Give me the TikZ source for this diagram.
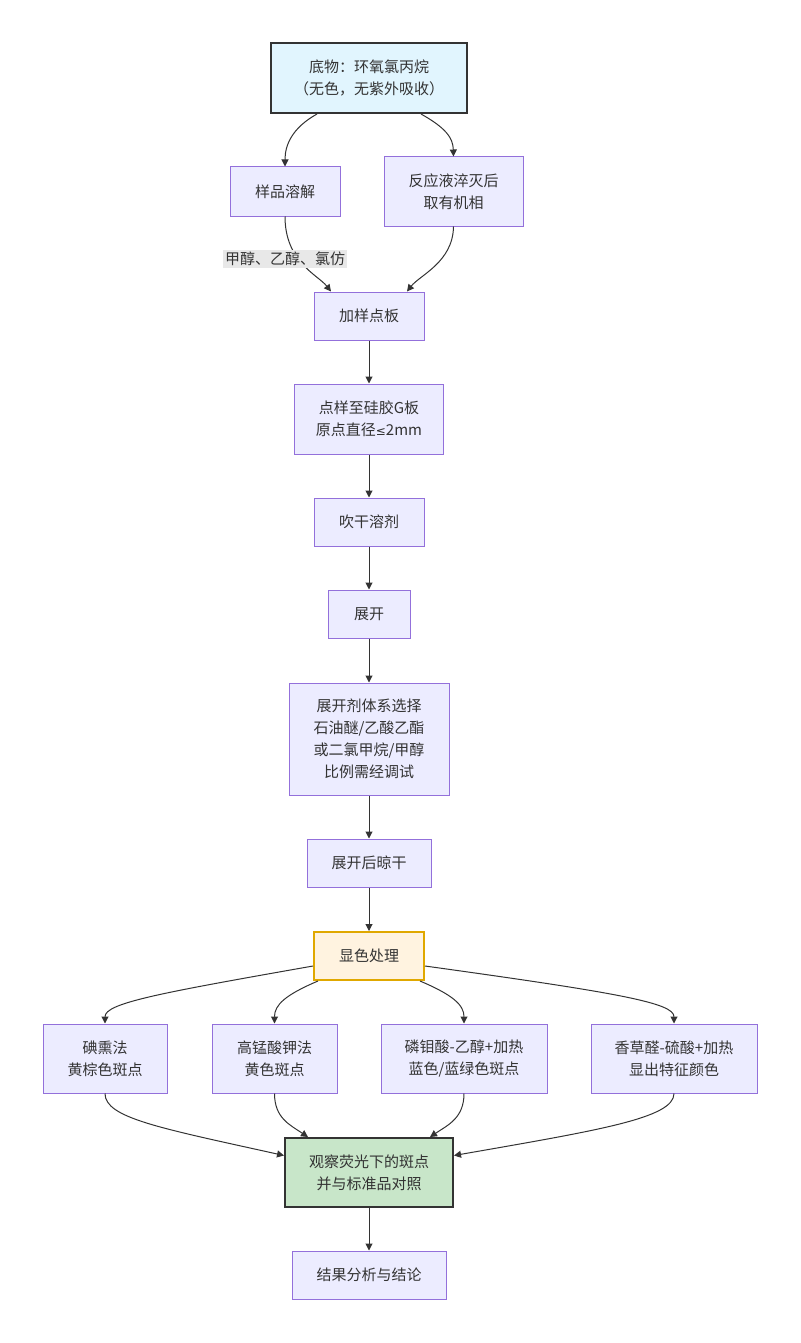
\documentclass[tikz,border=0pt]{standalone}
\usepackage{fontspec}
\setmainfont{Noto Sans CJK SC}
\newfontfamily\symfont{DejaVu Sans}
\usetikzlibrary{arrows.meta}
\definecolor{ink}{HTML}{333333}
\definecolor{boxfill}{HTML}{ECECFF}
\definecolor{boxline}{HTML}{9370DB}
\definecolor{subfill}{HTML}{E1F5FE}
\definecolor{colfill}{HTML}{FFF3E0}
\definecolor{colline}{HTML}{E0A800}
\definecolor{obsfill}{HTML}{C8E6C9}
\definecolor{labfill}{HTML}{E8E8E8}
\begin{document}
\begin{tikzpicture}[x=1pt,y=-1pt,
    box/.style={draw=boxline,fill=boxfill,line width=1pt,align=center,text=ink,
        inner sep=0pt,font=\fontsize{15}{22}\selectfont},
    key/.style={box,draw=ink,line width=2pt},
    link/.style={draw=ink,line width=1pt,-{Triangle[length=7pt,width=7pt]}},
    lab/.style={fill=labfill,text=ink,inner sep=2pt,font=\fontsize{15}{18}\selectfont}]
\useasboundingbox (0,0) rectangle (800,1343);
% nodes, top to bottom
\node[key,fill=subfill,minimum width=196pt,minimum height=70pt] (sub) at (369,78) {底物：环氧氯丙烷\\（无色，无紫外吸收）};
\node[box,minimum width=110pt,minimum height=49pt] (diss) at (285,191.5) {样品溶解};
\node[box,minimum width=139pt,minimum height=69pt] (quen) at (453.5,191.5) {反应液淬灭后\\取有机相};
\node[box,minimum width=110pt,minimum height=48pt] (plate) at (369,316) {加样点板};
\node[box,minimum width=149pt,minimum height=70pt] (spot) at (369,419) {点样至硅胶G板\\原点直径{\symfont\fontsize{12}{22}\selectfont ≤}2mm};
\node[box,minimum width=110pt,minimum height=48pt] (dry) at (369,522) {吹干溶剂};
\node[box,minimum width=82pt,minimum height=48pt] (dev) at (369,614) {展开};
\node[box,minimum width=160pt,minimum height=112pt] (solv) at (369,739) {展开剂体系选择\\石油醚/乙酸乙酯\\或二氯甲烷/甲醇\\比例需经调试};
\node[box,minimum width=124pt,minimum height=48pt] (air) at (369,863) {展开后晾干};
\node[box,draw=colline,fill=colfill,line width=2pt,minimum width=110pt,minimum height=48pt] (col) at (369,956) {显色处理};
\node[box,minimum width=124pt,minimum height=69pt] (iod) at (105,1058.5) {碘熏法\\黄棕色斑点};
\node[box,minimum width=125pt,minimum height=69pt] (kmn) at (274.5,1058.5) {高锰酸钾法\\黄色斑点};
\node[box,minimum width=166pt,minimum height=69pt] (pma) at (464,1058.5) {磷钼酸-乙醇+加热\\蓝色/蓝绿色斑点};
\node[box,minimum width=166pt,minimum height=69pt] (van) at (674,1058.5) {香草醛-硫酸+加热\\显出特征颜色};
\node[key,fill=obsfill,minimum width=168pt,minimum height=69pt] (obs) at (369,1172.5) {观察荧光下的斑点\\并与标准品对照};
\node[box,minimum width=154pt,minimum height=48pt] (res) at (369,1275) {结果分析与结论};
% connectors
\draw[link] ([xshift=-52pt]sub.south) .. controls (292,128) and (285,145) .. (diss.north);
\draw[link] ([xshift=52pt]sub.south) .. controls (446,128) and (453,138) .. (quen.north);
\draw[link] (diss.south) .. controls (285,262) and (318,275) .. ([xshift=-38pt]plate.north);
\draw[link] (quen.south) .. controls (453,262) and (420,275) .. ([xshift=38pt]plate.north);
\node[lab] (solvents) at (285,259) {甲醇、乙醇、氯仿};
\foreach \a/\b in {plate/spot,spot/dry,dry/dev,dev/solv,solv/air,air/col,obs/res}
    \draw[link] (\a) -- (\b);
\draw[link] ([yshift=-10pt]col.west) .. controls (160,993) and (105,1003) .. (iod.north);
\draw[link] ([xshift=-51pt]col.south) .. controls (285,995) and (274.5,1005) .. (kmn.north);
\draw[link] ([xshift=51pt]col.south) .. controls (453,995) and (464,1005) .. (pma.north);
\draw[link] ([yshift=-10pt]col.east) .. controls (620,993) and (674,1003) .. (van.north);
\draw[link] (iod.south) .. controls (105,1118) and (160,1128) .. ([yshift=17pt]obs.west);
\draw[link] (kmn.south) .. controls (274.5,1118) and (290,1125) .. ([xshift=-61pt]obs.north);
\draw[link] (pma.south) .. controls (464,1118) and (448,1125) .. ([xshift=61pt]obs.north);
\draw[link] (van.south) .. controls (674,1118) and (600,1130) .. ([yshift=17pt]obs.east);
\end{tikzpicture}
\end{document}
